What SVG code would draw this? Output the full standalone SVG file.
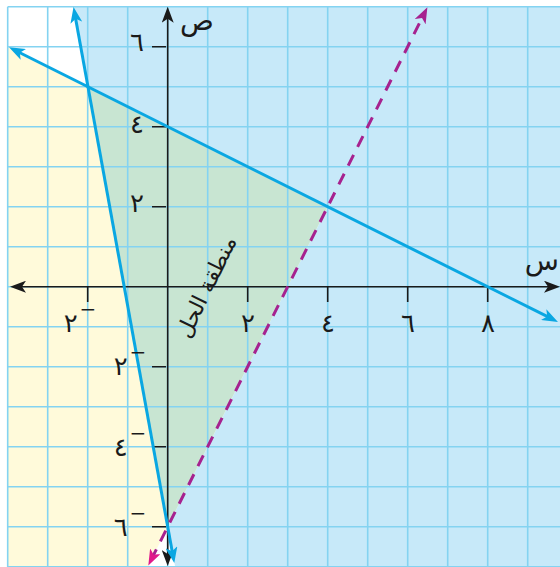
<svg xmlns="http://www.w3.org/2000/svg" width="560" height="567" viewBox="0 0 560 567">
<defs>
<style>
.grid{stroke:#84D3F1;stroke-width:1.6;fill:none}
.axis{stroke:#1a1a1a;stroke-width:1.6;fill:none}
.tick{stroke:#1a1a1a;stroke-width:1.6}
.bound{stroke:#0AA7E2;stroke-width:3;fill:none}
.dash{stroke:#A6228F;stroke-width:3;fill:none;stroke-dasharray:12 9}
.lbl{font-family:"DejaVu Sans",sans-serif;font-size:26px;fill:#1a1a1a;text-anchor:middle}
.var{font-family:"DejaVu Sans",sans-serif;font-size:28px;fill:#1a1a1a}
</style>
<marker id="ac" markerUnits="userSpaceOnUse" markerWidth="16" markerHeight="12" refX="10" refY="6" orient="auto-start-reverse"><path d="M0,0 L16,6 L0,12 L4,6 Z" fill="#0AA7E2"/></marker>
<marker id="ak" markerUnits="userSpaceOnUse" markerWidth="16" markerHeight="12" refX="10" refY="6" orient="auto-start-reverse"><path d="M0,0 L16,6 L0,12 L4,6 Z" fill="#1a1a1a"/></marker>
<marker id="am" markerUnits="userSpaceOnUse" markerWidth="16" markerHeight="12" refX="10" refY="6" orient="auto-start-reverse"><path d="M0,0 L16,6 L0,12 L4,6 Z" fill="#A6228F"/></marker>
<marker id="ap" markerUnits="userSpaceOnUse" markerWidth="16" markerHeight="12" refX="10" refY="6" orient="auto-start-reverse"><path d="M0,0 L16,6 L0,12 L4,6 Z" fill="#E0198A"/></marker>
</defs>
<rect width="560" height="567" fill="#ffffff"/>
<g id="regions">
<polygon points="7.7,46.7 87.7,86.7 167.7,526.7 147.7,567 7.7,567" fill="#FFFADA"/>
<polygon points="73.2,6.7 560,6.7 560,567 175.2,567 167.7,526.7 327.7,206.7 87.7,86.7" fill="#C7E9F9"/>
<polygon points="87.7,86.7 327.7,206.7 167.7,526.7" fill="#C8E5D2"/>
</g>
<g id="grid">
<path class="grid" d="M7.7,6.7V567 M47.7,6.7V567 M87.7,6.7V567 M127.7,6.7V567 M167.7,6.7V567 M207.7,6.7V567 M247.7,6.7V567 M287.7,6.7V567 M327.7,6.7V567 M367.7,6.7V567 M407.7,6.7V567 M447.7,6.7V567 M487.7,6.7V567 M527.7,6.7V567 M7.7,6.7H560 M7.7,46.7H560 M7.7,86.7H560 M7.7,126.7H560 M7.7,166.7H560 M7.7,206.7H560 M7.7,246.7H560 M7.7,286.7H560 M7.7,326.7H560 M7.7,366.7H560 M7.7,406.7H560 M7.7,446.7H560 M7.7,486.7H560 M7.7,526.7H560 M7.7,566.7H560"/>
</g>
<g id="axes">
<path class="axis" d="M16,286.7 H554" marker-start="url(#ak)" marker-end="url(#ak)"/>
<path class="axis" d="M167.7,560 V12.7" marker-start="url(#ak)" marker-end="url(#ak)"/>
<path class="tick" d="M87.7,286.7V302 M247.7,286.7V302 M327.7,286.7V302 M407.7,286.7V302 M487.7,286.7V302 M152,46.7H166 M152,126.7H166 M152,206.7H166 M152,366.7H166 M152,446.7H166 M152,526.7H166"/>
</g>
<g id="connectors">
<path id="line-shallow" class="bound" d="M14.4,50 L552.6,319.2" marker-start="url(#ac)" marker-end="url(#ac)"/>
<path id="line-steep" class="bound" d="M74.6,12.9 L173.2,557.1" marker-start="url(#ac)" marker-end="url(#ac)"/>
<path id="line-dashed" class="dash" d="M151,560.1 L424.7,12.7" marker-start="url(#ap)" marker-end="url(#am)"/>
</g>
<g id="labels">
<text class="lbl" x="80" y="332">٢<tspan font-size="20" dx="2" dy="-16">−</tspan></text>
<text class="lbl" x="248" y="332">٢</text>
<text class="lbl" x="328" y="332">٤</text>
<text class="lbl" x="408" y="332">٦</text>
<text class="lbl" x="488" y="332">٨</text>
<text class="lbl" x="137" y="51">٦</text>
<text class="lbl" x="137" y="133">٤</text>
<text class="lbl" x="137" y="212">٢</text>
<text class="lbl" x="130" y="375">٢<tspan font-size="20" dx="2" dy="-16">−</tspan></text>
<text class="lbl" x="130" y="456">٤<tspan font-size="20" dx="2" dy="-16">−</tspan></text>
<text class="lbl" x="130" y="536">٦<tspan font-size="20" dx="2" dy="-16">−</tspan></text>
<text class="var" x="180" y="30">ص</text>
<text class="var" x="559" y="270" font-size="24" text-anchor="end">س</text>
<text font-family="DejaVu Sans, sans-serif" font-size="22" fill="#1a1a1a" text-anchor="middle" transform="translate(213,290) rotate(-64)">منطقة الحل</text>
</g>
</svg>
